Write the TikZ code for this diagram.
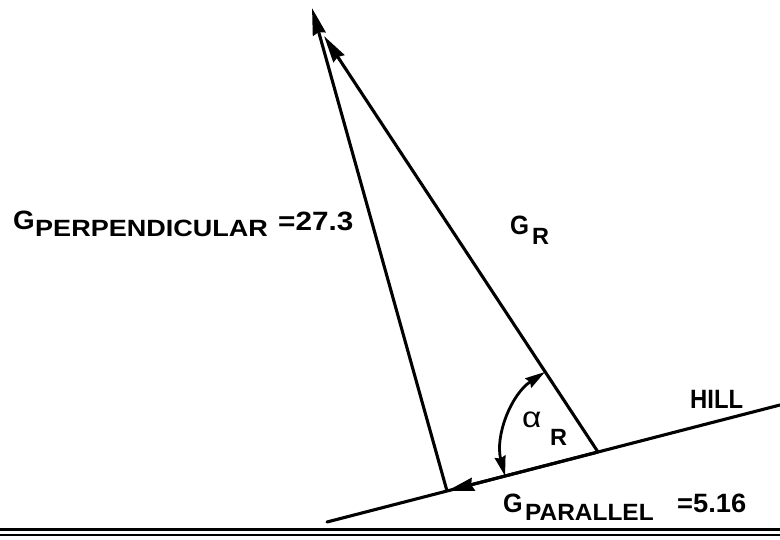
\documentclass[tikz,border=0pt]{standalone}
\usepackage{graphicx}
\usepackage{fontspec}
\setmainfont{Liberation Sans}
\usetikzlibrary{arrows.meta}
\newcommand{\stretchx}[2]{\scalebox{#1}[1]{#2}}
\begin{document}
\begin{tikzpicture}[x=1pt,y=1pt,
  vec/.style={line width=3.1pt, -{Stealth[length=27pt,width=13pt,inset=2pt]}},
  angarrow/.style={line width=2.8pt, {Stealth[length=20pt,width=11pt,inset=2pt]}-{Stealth[length=20pt,width=11pt,inset=2pt]}},
  lbl/.style={inner sep=0pt, anchor=base west},
  bigtxt/.style={lbl, font=\fontsize{26.5}{31}\bfseries},
  subtxt/.style={lbl, font=\fontsize{23.5}{28}\bfseries}]
\useasboundingbox (0,0) rectangle (780,539);
\fill[white] (0,0) rectangle (780,539);
\coordinate (F) at (447,48);
\coordinate (T1) at (312,531);
\coordinate (V) at (598,87);
\coordinate (T2) at (324,503);
\coordinate (H1) at (327,17);
\coordinate (H2) at (780,134);
\coordinate (GA) at (0,9.5);
\coordinate (GB) at (780,9.5);
\coordinate (GC) at (0,4.5);
\coordinate (GD) at (780,4.5);
\coordinate (AS) at ([shift={(123.5:96)}]V);
% ground
\draw[line width=3.2pt] (GA) -- (GB);
\draw[line width=2pt] (GC) -- (GD);
% hill
\draw[line width=3.1pt, line cap=round] (H1) -- (H2);
% vectors
\draw[vec] (F) -- (T1);
\draw[vec] (V) -- (T2);
\draw[vec] (V) -- (F);
% angle
\draw[angarrow] (AS) arc[start angle=123.5, end angle=194.5, radius=96];
% labels
\node[bigtxt] (gp) at (13,309) {\stretchx{1.05}{G}};
\node[subtxt] (gps) at (35,302) {\stretchx{1.15}{PERPENDICULAR}};
\node[bigtxt] (gpv) at (278,308) {\stretchx{1.12}{=27.3}};
\node[bigtxt] (gr) at (510,304) {\stretchx{0.92}{G}};
\node[subtxt] (grs) at (532,294) {\stretchx{1.0}{R}};
\node[lbl, font=\fontsize{29}{33}\selectfont] (al) at (522,111) {\stretchx{1.15}{α}};
\node[subtxt] (als) at (550,94) {\stretchx{1.0}{R}};
\node[bigtxt] (hill) at (690,131) {\stretchx{0.9}{HILL}};
\node[bigtxt] (gl) at (503,27) {\stretchx{0.95}{G}};
\node[subtxt] (gls) at (525,19) {\stretchx{1.04}{PARALLEL}};
\node[bigtxt] (glv) at (677,27) {\stretchx{1.03}{=5.16}};
\end{tikzpicture}
\end{document}
